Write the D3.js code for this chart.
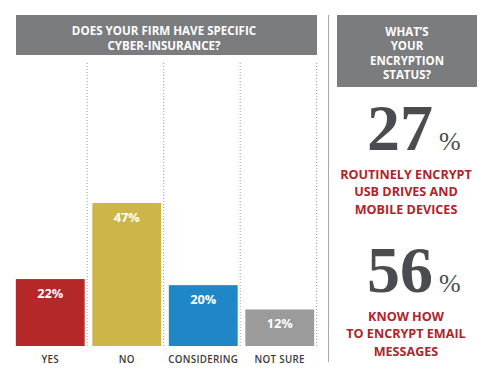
<!DOCTYPE html>
<html>
<head>
<meta charset="utf-8">
<script src="https://cdn.jsdelivr.net/npm/d3@7"></script>
<style>
  body { margin: 0; background: #fff; }
  svg { display: block; font-family: "Open Sans", sans-serif; }
</style>
</head>
<body>
<div id="chart"></div>
<script>
// ---- data ----
const categories = ['YES', 'NO', 'CONSIDERING', 'NOT SURE'];
const values = [22, 47, 20, 12];
const barColors = ['#b5282a', '#cdb54a', '#1f87c6', '#9b9b9b'];
const leftTitle = ['DOES YOUR FIRM HAVE SPECIFIC', 'CYBER-INSURANCE?'];
const rightTitle = ["WHAT\u2019S", 'YOUR', 'ENCRYPTION', 'STATUS?'];
const statValues = [27, 56];
const statLabels = [
  ['ROUTINELY ENCRYPT', 'USB DRIVES AND', 'MOBILE DEVICES'],
  ['KNOW HOW', 'TO ENCRYPT EMAIL', 'MESSAGES']
];

const W = 500, H = 389;
const svg = d3.select('#chart').append('svg').attr('width', W).attr('height', H);

//====[ left title box ]====//
svg.append('rect').attr('x', 16).attr('y', 15).attr('width', 301).attr('height', 40).attr('fill', '#7b7c7e');
svg.append('g').selectAll('text').data(leftTitle).enter().append('text')
  .attr('x', 164).attr('y', (d, i) => 30 + i * 15)
  .attr('text-anchor', 'middle').attr('dominant-baseline', 'central')
  .attr('fill', '#fff').attr('font-size', 11.6).attr('font-weight', 700)
  .text(d => d);

//====[ bar chart ]====//
const x = d3.scaleBand().domain(categories).range([12, 318]).paddingInner(0.1).paddingOuter(0.05);
const y = d3.scaleLinear().domain([0, 47]).range([346, 203]);

// dotted separators
svg.append('g').selectAll('line').data(categories).enter().append('line')
  .attr('x1', d => x(d) + x.bandwidth() + 2.5).attr('x2', d => x(d) + x.bandwidth() + 2.5)
  .attr('y1', 63).attr('y2', 346)
  .attr('stroke', '#999').attr('stroke-width', 1).attr('stroke-dasharray', '1,2');

svg.append('g').selectAll('rect').data(values).enter().append('rect')
  .attr('x', (d, i) => x(categories[i]))
  .attr('y', d => y(d))
  .attr('width', x.bandwidth())
  .attr('height', d => y(0) - y(d))
  .attr('fill', (d, i) => barColors[i]);

svg.append('g').selectAll('text').data(values).enter().append('text')
  .attr('x', (d, i) => x(categories[i]) + x.bandwidth() / 2)
  .attr('y', d => y(d) + 14)
  .attr('text-anchor', 'middle').attr('dominant-baseline', 'central')
  .attr('fill', '#fff').attr('font-size', 12.8).attr('font-weight', 700)
  .text(d => d + '%');

svg.append('g').selectAll('text').data(categories).enter().append('text')
  .attr('x', d => x(d) + x.bandwidth() / 2)
  .attr('y', 359)
  .attr('text-anchor', 'middle').attr('dominant-baseline', 'central')
  .attr('fill', '#3a3a3a').attr('font-size', 9.8).attr('font-weight', 600)
  .attr('letter-spacing', 0.3)
  .text(d => d);

// vertical rule between panels
svg.append('line').attr('x1', 328.5).attr('x2', 328.5).attr('y1', 15).attr('y2', 362)
  .attr('stroke', '#a8a8a8').attr('stroke-width', 1);

//====[ right panel ]====//
svg.append('rect').attr('x', 337).attr('y', 15).attr('width', 140).attr('height', 72).attr('fill', '#7b7c7e');
svg.append('g').selectAll('text').data(rightTitle).enter().append('text')
  .attr('x', 407).attr('y', (d, i) => 31 + i * 14.5)
  .attr('text-anchor', 'middle').attr('dominant-baseline', 'central')
  .attr('fill', '#fff').attr('font-size', 11.5).attr('font-weight', 700)
  .text(d => d);

const statTop = [150, 292];
statValues.forEach((v, k) => {
  const g = svg.append('g');
  g.append('text')
    .attr('x', 433).attr('y', statTop[k])
    .attr('text-anchor', 'end')
    .attr('fill', '#4a4c4f').attr('font-size', 66).attr('font-weight', 700)
    .attr('font-family', '"Liberation Serif", serif')
    .text(v);
  g.append('text')
    .attr('x', 439).attr('y', statTop[k])
    .attr('fill', '#4a4c4f').attr('font-size', 26)
    .attr('font-family', '"Liberation Serif", serif')
    .text('%');
  g.selectAll('.lbl').data(statLabels[k]).enter().append('text')
    .attr('class', 'lbl')
    .attr('x', 406).attr('y', (d, i) => statTop[k] + 24 + i * 17.5)
    .attr('text-anchor', 'middle').attr('dominant-baseline', 'central')
    .attr('fill', '#b0232a').attr('font-size', 12.6).attr('font-weight', 700)
    .text(d => d);
});
</script>
</body>
</html>
